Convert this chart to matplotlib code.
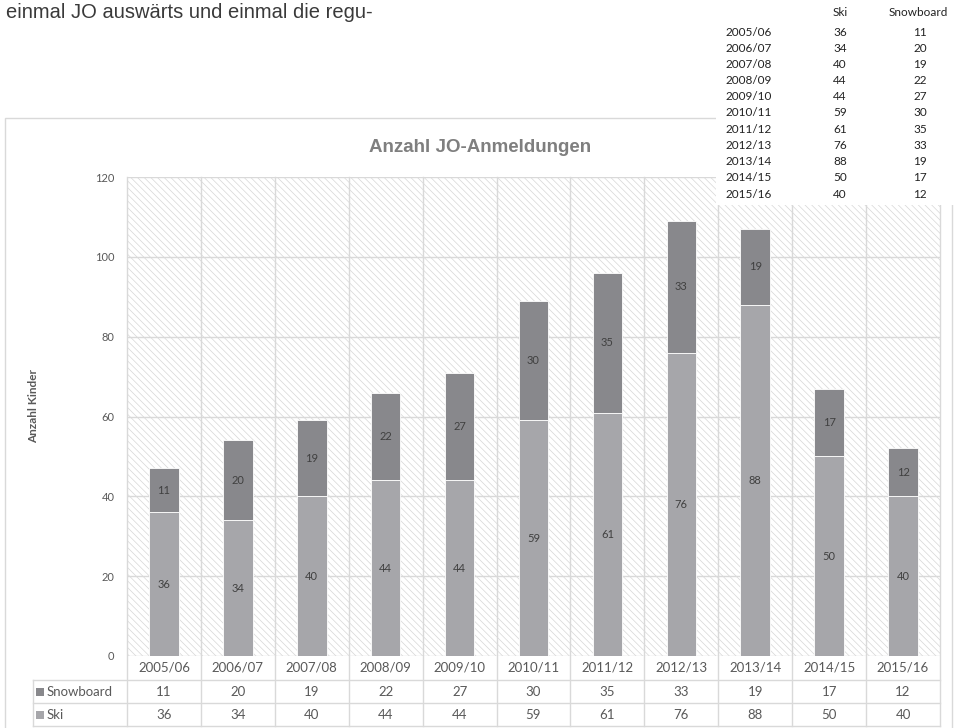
import matplotlib
matplotlib.use('Agg')
import matplotlib.pyplot as plt
from matplotlib.patches import Rectangle
import matplotlib.transforms as mtransforms

# data
seasons = ['2005/06', '2006/07', '2007/08', '2008/09', '2009/10', '2010/11',
           '2011/12', '2012/13', '2013/14', '2014/15', '2015/16']
ski = [36, 34, 40, 44, 44, 59, 61, 76, 88, 50, 40]
snowboard = [11, 20, 19, 22, 27, 30, 35, 33, 19, 17, 12]
yticks = [0, 20, 40, 60, 80, 100, 120]

ski_col = '#a6a6aa'
sb_col = '#88888c'
grid_col = '#d9d9d9'
txt_col = '#595959'

plt.rcParams['font.family'] = ['Lato', 'DejaVu Sans']
plt.rcParams['hatch.color'] = '#d6d6d6'
plt.rcParams['hatch.linewidth'] = 0.5

W, H = 961, 728
fig = plt.figure(figsize=(W / 100, H / 100), dpi=100)
ax = fig.add_axes([127 / W, (H - 656) / H, (940 - 127) / W, (656 - 177) / H])

# chart frame
fig.add_artist(Rectangle((5 / W, -0.05), 947 / W, (H - 118) / H + 0.05,
                         transform=fig.transFigure, fill=False, ec=grid_col, lw=1, zorder=-1))

# hatched plot background
ax.patch.set_visible(False)
ax.add_patch(Rectangle((0, 0), 1, 1, transform=ax.transAxes, fc='white', ec='#d6d6d6',
                       lw=0, hatch='\\' * 5, zorder=0))

x = list(range(len(seasons)))
ax.bar(x, ski, width=0.4, color=ski_col, ec='white', lw=0.6, zorder=3)
ax.bar(x, snowboard, width=0.4, bottom=ski, color=sb_col, ec='white', lw=0.6, zorder=3)
for i in x:
    ax.text(i, ski[i] / 2, str(ski[i]), ha='center', va='center', fontsize=8, color='#404040', zorder=4)
    ax.text(i, ski[i] + snowboard[i] / 2, str(snowboard[i]), ha='center', va='center',
            fontsize=8, color='#404040', zorder=4)

ax.set_xlim(-0.5, len(seasons) - 0.5)
ax.set_ylim(0, 120)
ax.set_yticks(yticks)
ax.set_xticks([])
ax.tick_params(axis='y', length=0, pad=9, labelsize=8, labelcolor=txt_col)
for s in ax.spines.values():
    s.set_visible(False)

# gridlines
for v in yticks:
    ax.plot([-0.5, len(seasons) - 0.5], [v, v], color=grid_col, lw=1, zorder=1)

# data table below the plot
trans = mtransforms.blended_transform_factory(ax.transData, ax.transAxes)
def ypx(p):
    return (656 - p) / 479.0
for k in range(len(seasons) + 1):
    ax.plot([k - 0.5, k - 0.5], [ypx(726), 1], color=grid_col, lw=1, transform=trans,
            clip_on=False, zorder=1)
lab_left = (33 - 127) / 813.0
for p in [680, 703, 726]:
    ax.plot([lab_left, 1], [ypx(p), ypx(p)], color=grid_col, lw=1, transform=ax.transAxes,
            clip_on=False, zorder=1)
ax.plot([lab_left, lab_left], [ypx(680), ypx(726)], color=grid_col, lw=1,
        transform=ax.transAxes, clip_on=False)

for i in x:
    ax.text(i, ypx(668), seasons[i], ha='center', va='center', fontsize=9.5, color=txt_col,
            transform=trans)
    ax.text(i, ypx(692), str(snowboard[i]), ha='center', va='center', fontsize=9.5,
            color=txt_col, transform=trans)
    ax.text(i, ypx(715), str(ski[i]), ha='center', va='center', fontsize=9.5,
            color=txt_col, transform=trans)

for name, col, p in [('Snowboard', sb_col, 692), ('Ski', ski_col, 715)]:
    fig.add_artist(Rectangle((36 / W, (H - p - 4) / H), 8 / W, 8 / H, transform=fig.transFigure,
                             fc=col, ec='none'))
    fig.text(47 / W, (H - p) / H, name, ha='left', va='center', fontsize=9.5, color=txt_col)

# titles
fig.text(480 / W, (H - 147) / H, 'Anzahl JO-Anmeldungen', ha='center', va='center',
         fontsize=13.5, fontweight='bold', color='#7f7f7f', family='Liberation Sans')
fig.text(34 / W, (H - 406) / H, 'Anzahl Kinder', rotation=90, ha='center', va='center',
         fontsize=8.5, fontweight='bold', color=txt_col)

# surrounding document text
fig.text(6 / W, (H - 12) / H, 'einmal JO auswärts und einmal die regu-', ha='left', va='center',
         fontsize=14.5, color='#3a3a3a', family='Liberation Sans')

# pasted source table at top right
fig.add_artist(Rectangle((716 / W, (H - 205) / H), (W - 716) / W, 205 / H,
                         transform=fig.transFigure, fc='white', ec='none', zorder=5))
fig.text(840 / W, (H - 13) / H, 'Ski', ha='center', va='center', fontsize=8.5, color='#222222', zorder=6)
fig.text(918 / W, (H - 13) / H, 'Snowboard', ha='center', va='center', fontsize=8.5, color='#222222', zorder=6)
for i in x:
    yy = (H - (32 + 16.2 * i)) / H
    fig.text(725 / W, yy, seasons[i], ha='left', va='center', fontsize=8.5, color='#222222', zorder=6)
    fig.text(840 / W, yy, str(ski[i]), ha='center', va='center', fontsize=8.5, color='#222222', zorder=6)
    fig.text(920 / W, yy, str(snowboard[i]), ha='center', va='center', fontsize=8.5, color='#222222', zorder=6)

fig.savefig('out.png', dpi=100)
